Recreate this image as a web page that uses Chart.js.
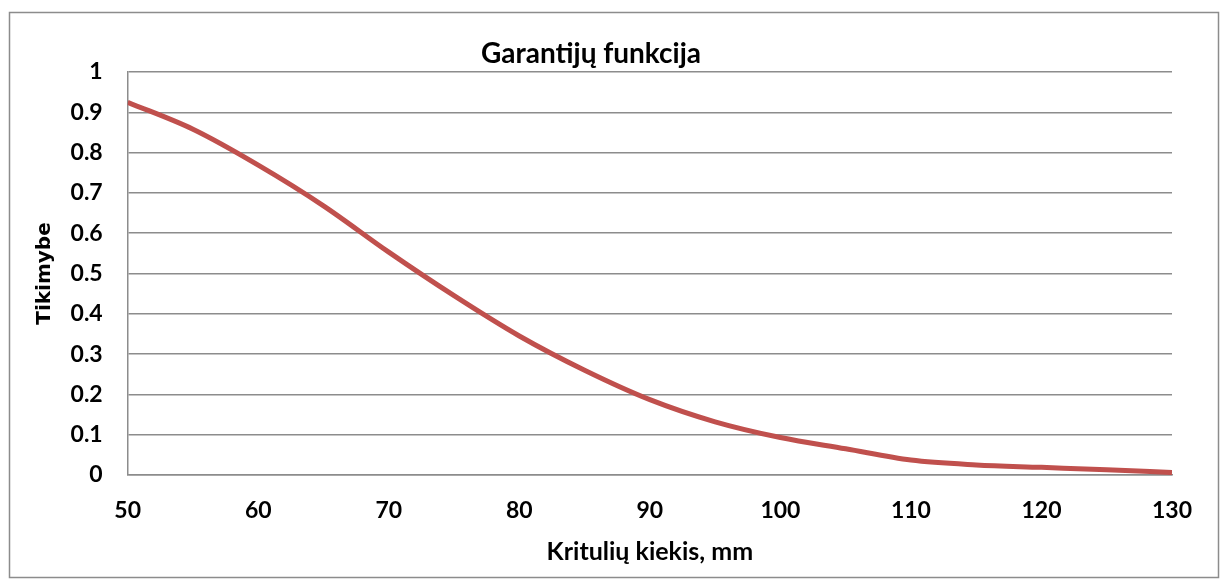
<!DOCTYPE html>
<html>
<head>
<meta charset="utf-8">
<script src="https://cdn.jsdelivr.net/npm/chart.js@4.4.1/dist/chart.umd.min.js"></script>
<style>
  html, body { margin: 0; padding: 0; background: #ffffff; }
  #wrap { position: relative; width: 1224px; height: 579px; }
</style>
</head>
<body>
<div id="wrap"><canvas id="c" width="1224" height="579"></canvas></div>
<script>
// ---- data ----
const rainfall = [50, 55, 60, 65, 70, 75, 80, 85, 90, 95, 100, 105, 110, 115, 120, 125, 130];
const probability = [0.925, 0.858, 0.769, 0.668, 0.553, 0.445, 0.345, 0.26, 0.187, 0.132, 0.093, 0.065, 0.037, 0.025, 0.019, 0.013, 0.006];
const xTicks = [50, 60, 70, 80, 90, 100, 110, 120, 130];
const yTicks = [0, 0.1, 0.2, 0.3, 0.4, 0.5, 0.6, 0.7, 0.8, 0.9, 1];
const chartTitle = 'Garantijų funkcija';
const xTitle = 'Kritulių kiekis, mm';
const yTitle = 'Tikimybe';

const points = rainfall.map((x, i) => ({ x: x, y: probability[i] }));

const frame = {
  id: 'frame',
  beforeDraw(chart) {
    const ctx = chart.ctx;
    ctx.save();
    ctx.fillStyle = '#ffffff';
    ctx.fillRect(0, 0, chart.width, chart.height);
    ctx.strokeStyle = '#8c8c8c';
    ctx.lineWidth = 1.5;
    ctx.strokeRect(9.5, 12.5, 1209, 565);
    ctx.restore();
  }
};

const FONT = 'Lato, "Open Sans", sans-serif';

new Chart(document.getElementById('c'), {
  type: 'line',
  data: {
    datasets: [{
      data: points,
      borderColor: '#C0504D',
      backgroundColor: '#C0504D',
      borderWidth: 5,
      pointRadius: 0,
      cubicInterpolationMode: 'monotone',
      fill: false
    }]
  },
  options: {
    responsive: false,
    animation: false,
    layout: { padding: { left: 10, right: 52, top: 0, bottom: 0 } },
    plugins: {
      legend: { display: false },
      tooltip: { enabled: false },
      title: {
        display: true,
        text: chartTitle,
        color: '#000000',
        font: { family: FONT, size: 28, weight: 'bold', lineHeight: 1.2 },
        padding: { top: 36.7, bottom: 1.7 }
      }
    },
    scales: {
      x: {
        type: 'linear',
        min: 50,
        max: 130,
        afterBuildTicks(scale) { scale.ticks = xTicks.map(v => ({ value: v })); },
        afterFit(scale) { scale.height = 104; },
        grid: { display: false, drawTicks: false },
        border: { display: true, color: '#8c8c8c', width: 1.5 },
        ticks: {
          color: '#000000',
          font: { family: FONT, size: 23, weight: 'bold' },
          padding: 22,
          maxRotation: 0,
          autoSkip: false
        },
        title: {
          display: true,
          text: xTitle,
          color: '#000000',
          font: { family: FONT, size: 25, weight: 'bold', lineHeight: 1.2 },
          padding: { top: 0, bottom: 12 }
        }
      },
      y: {
        type: 'linear',
        min: 0,
        max: 1,
        afterBuildTicks(scale) { scale.ticks = yTicks.map(v => ({ value: v })); },
        afterFit(scale) { scale.width = 117.7; },
        grid: { display: true, color: '#8c8c8c', lineWidth: 1.5, drawTicks: false },
        border: { display: true, color: '#8c8c8c', width: 1.5 },
        ticks: {
          color: '#000000',
          font: { family: FONT, size: 23, weight: 'bold' },
          padding: 25,
          autoSkip: false,
          callback: v => String(Math.round(v * 10) / 10)
        },
        title: {
          display: true,
          text: yTitle,
          color: '#000000',
          font: { family: '"DejaVu Sans", sans-serif', size: 20, weight: 'bold', lineHeight: 1.2 },
          padding: { top: 23, bottom: 0 }
        }
      }
    }
  },
  plugins: [frame]
});
</script>
</body>
</html>
